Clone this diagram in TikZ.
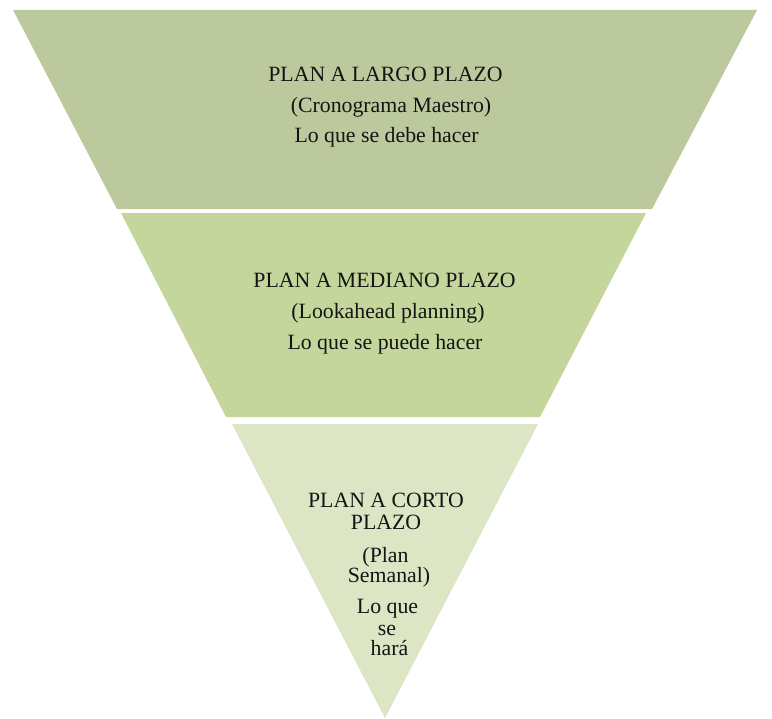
\documentclass[tikz,border=0pt]{standalone}
\usepackage{fontspec}
\setmainfont{Liberation Serif}
\definecolor{tierA}{RGB}{188,201,157}
\definecolor{tierB}{RGB}{196,214,155}
\definecolor{tierC}{RGB}{220,230,196}
\definecolor{txt}{RGB}{20,20,20}
\begin{document}
\begin{tikzpicture}[x=1bp,y=-1bp,
  lbl/.style={anchor=base,inner sep=0pt,text=txt,font=\fontsize{21.8bp}{24bp}\selectfont}]
\useasboundingbox (0,0) rectangle (772,719);
\fill[white] (0,0) rectangle (772,719);
% tiers
\fill[tierA] (13,10) -- (757,10) -- (652,209) -- (117,209) -- cycle;
\fill[tierB] (121,213) -- (646,213) -- (540,417) -- (226,417) -- cycle;
\fill[tierC] (232,424) -- (538,424) -- (385,718) -- cycle;
% top tier text
\node[lbl] (a1) at (385.5,82) {PLAN A LARGO PLAZO};
\node[lbl] (a2) at (391,113) {(Cronograma Maestro)};
\node[lbl] (a3) at (386.5,143) {Lo que se debe hacer};
% middle tier text
\node[lbl] (b1) at (384.5,287) {PLAN A MEDIANO PLAZO};
\node[lbl] (b2) at (388,318) {(Lookahead planning)};
\node[lbl] (b3) at (385,349) {Lo que se puede hacer};
% bottom tier text
\node[lbl] (c1) at (386,507) {PLAN A CORTO};
\node[lbl] (c2) at (386,529) {PLAZO};
\node[lbl] (c3) at (385.5,562) {(Plan};
\node[lbl] (c4) at (389,582) {Semanal)};
\node[lbl] (c5) at (387.5,613) {Lo que};
\node[lbl] (c6) at (387,635) {se};
\node[lbl] (c7) at (389.5,655) {hará};
\end{tikzpicture}
\end{document}
